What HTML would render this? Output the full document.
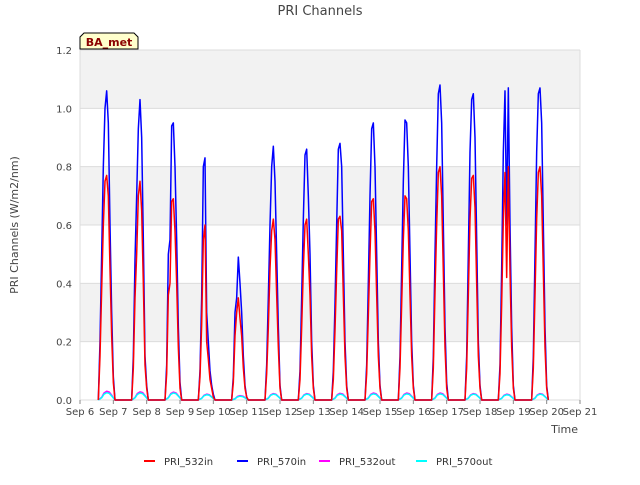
<!DOCTYPE html>
<html><head><meta charset="utf-8"><style>
body{margin:0;background:#fff;font-family:"Liberation Sans","DejaVu Sans",sans-serif;}
svg text{font-family:"DejaVu Sans","Liberation Sans",sans-serif;}
</style></head><body>
<svg id="chart" width="640" height="480" viewBox="0 0 640 480">
<rect x="0" y="0" width="640" height="480" fill="#fff"/>
<g id="bands"></g>
<g id="grid"></g>
<g id="series"></g>
<g id="axes"></g>
<text x="320" y="15" text-anchor="middle" font-size="13" fill="#444">PRI Channels</text>
<text transform="translate(18,225) rotate(-90)" text-anchor="middle" font-size="11" fill="#444">PRI Channels (W/m2/nm)</text>
<text x="578" y="433" text-anchor="end" font-size="11" fill="#444">Time</text>
<g>
<path d="M80,49 L80,37 L84,33 L134,33 L138,37 L138,49 Z" fill="#ffffcc" stroke="#000" stroke-width="1"/>
<text x="109" y="46" text-anchor="middle" font-size="11" font-weight="bold" fill="#8b0000">BA_met</text>
</g>
<g id="legend"></g>
</svg>
<script>
const days=[6,7,8,9,10,11,12,13,14,15,16,17,18,19];
const offsets=[0.55,0.6,0.65,0.7,0.75,0.8,0.85,0.9,0.95,1.0,1.05];
const in570=[
[0,.2,.5,.8,1.0,1.06,.95,.6,.3,.08,0],
[0,.15,.48,.7,.93,1.03,.9,.55,.15,.05,0],
[0,.12,.5,.55,.94,.95,.8,.55,.25,.06,0],
[0,.1,.35,.8,.83,.3,.2,.1,.05,.02,0],
[0,.08,.3,.35,.49,.4,.3,.15,.05,.01,0],
[0,.12,.35,.6,.8,.87,.75,.5,.25,.05,0],
[0,.1,.35,.62,.84,.86,.7,.5,.2,.05,0],
[0,.1,.33,.6,.86,.88,.8,.5,.2,.05,0],
[0,.12,.4,.7,.93,.95,.8,.5,.2,.05,0],
[0,.15,.45,.75,.96,.95,.8,.5,.2,.05,0],
[0,.15,.5,.8,1.05,1.08,.95,.6,.25,.06,0],
[0,.15,.5,.85,1.03,1.05,.9,.55,.2,.05,0],
[0,.12,.45,.85,1.06,.6,1.07,.6,.25,.05,0],
[0,.15,.5,.85,1.05,1.07,.95,.6,.25,.05,0]];
const in532=[
[0,.15,.38,.6,.75,.77,.7,.45,.22,.06,0],
[0,.11,.35,.5,.7,.75,.65,.4,.12,.04,0],
[0,.09,.36,.4,.68,.69,.58,.4,.18,.04,0],
[0,.08,.26,.55,.6,.2,.14,.07,.04,.01,0],
[0,.06,.22,.3,.35,.28,.22,.11,.04,.01,0],
[0,.09,.25,.45,.58,.62,.55,.36,.18,.04,0],
[0,.07,.25,.45,.6,.62,.5,.36,.15,.04,0],
[0,.07,.24,.44,.62,.63,.58,.36,.15,.04,0],
[0,.09,.29,.5,.68,.69,.58,.36,.15,.04,0],
[0,.11,.33,.55,.7,.69,.58,.36,.15,.04,0],
[0,.11,.37,.6,.78,.8,.7,.44,.18,.04,0],
[0,.11,.36,.62,.76,.77,.66,.4,.15,.04,0],
[0,.09,.33,.62,.78,.42,.8,.44,.18,.04,0],
[0,.11,.36,.62,.78,.8,.7,.44,.18,.04,0]];
const out532=[.03,.028,.027,.02,.015,.022,.022,.023,.024,.024,.024,.022,.02,.022];
const out570=[.025,.024,.024,.018,.013,.02,.02,.02,.021,.021,.021,.02,.018,.02];
const outShape=[0,.3,.8,1,.9,.5,0];
const outOffsets=[0.55,0.65,0.72,0.8,0.88,0.96,1.05];
const yTicks=[0,0.2,0.4,0.6,0.8,1.0,1.2];
const xTicks=["Sep 6","Sep 7","Sep 8","Sep 9","Sep 10","Sep 11","Sep 12","Sep 13","Sep 14","Sep 15","Sep 16","Sep 17","Sep 18","Sep 19","Sep 20","Sep 21"];
const X0=80,X1=580,Y0=400,Y1=50;
function xs(d){return X0+(d-6)/15*(X1-X0);}
function ys(v){return Y0-v/1.2*(Y0-Y1);}
const NS="http://www.w3.org/2000/svg";
function mk(tag,attrs,parent){const e=document.createElementNS(NS,tag);for(const k in attrs)e.setAttribute(k,attrs[k]);parent.appendChild(e);return e;}
const bands=document.getElementById('bands'),grid=document.getElementById('grid'),axes=document.getElementById('axes'),series=document.getElementById('series'),legend=document.getElementById('legend');
[[0.2,0.4],[0.6,0.8],[1.0,1.2]].forEach(b=>{const r=mk('rect',{x:X0,y:ys(b[1]),width:X1-X0,height:ys(b[0])-ys(b[1]),fill:'#f2f2f2'},bands);

});
yTicks.forEach(t=>{const l=mk('line',{x1:X0,x2:X1,y1:ys(t),y2:ys(t),stroke:'#dcdcdc','stroke-width':1},grid);


const tx=mk('text',{x:X0-8,y:ys(t)+4,'text-anchor':'end','font-size':'10',fill:'#444'},axes);tx.textContent=t.toFixed(1);

});
mk('line',{x1:X0,x2:X0,y1:Y1,y2:Y0,stroke:'#dcdcdc'},grid);
mk('line',{x1:X1,x2:X1,y1:Y1,y2:Y0,stroke:'#dcdcdc'},grid);
xTicks.forEach((t,i)=>{const x=xs(6+i);mk('line',{x1:x,x2:x,y1:Y0,y2:Y0+4,stroke:'#888'},axes);
const tx=mk('text',{x:x,y:Y0+15,'text-anchor':'middle','font-size':'10',fill:'#444'},axes);tx.textContent=t;

});
function drawSeries(name,color,getPts,w){let d='';
days.forEach((day,i)=>{getPts(i).forEach((p,j)=>{d+=(d===''?'M':'L')+xs(day+p[0]).toFixed(2)+','+ys(p[1]).toFixed(2)+' ';});});
const p=mk('path',{d:d,fill:'none',stroke:color,'stroke-width':w,'stroke-linejoin':'round'},series);

}
drawSeries('series-pri-532out','#ff00ff',i=>outOffsets.map((o,j)=>[o,out532[i]*outShape[j]]),1.5);
drawSeries('series-pri-570out','#00ffff',i=>outOffsets.map((o,j)=>[o,out570[i]*outShape[j]]),1.5);
drawSeries('series-pri-570in','#0000ff',i=>offsets.map((o,j)=>[o,in570[i][j]]),1.5);
drawSeries('series-pri-532in','#ff0000',i=>offsets.map((o,j)=>[o,in532[i][j]]),1.5);
const leg=[["PRI_532in","#ff0000",144],["PRI_570in","#0000ff",237],["PRI_532out","#ff00ff",319],["PRI_570out","#00ffff",416]];
leg.forEach(l=>{const g=mk('g',{},legend);


mk('line',{x1:l[2],x2:l[2]+11,y1:461,y2:461,stroke:l[1],'stroke-width':2},g);
const t=mk('text',{x:l[2]+20,y:465,'font-size':'10',fill:'#333'},g);t.textContent=l[0];});
</script>
</body></html>
